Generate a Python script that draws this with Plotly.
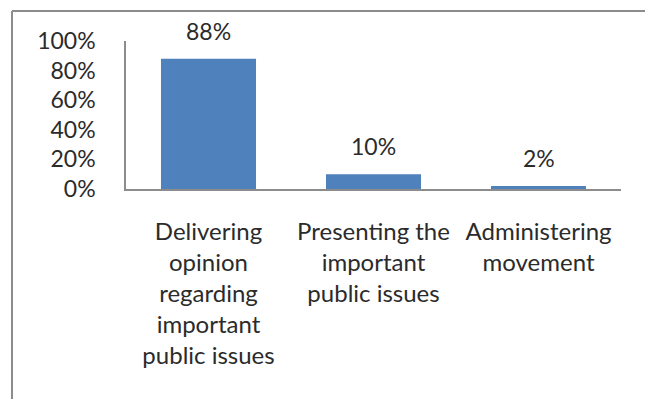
import plotly.graph_objects as go

# Survey results: share of respondents per purpose
categories = [
    "Delivering<br>opinion<br>regarding<br>important<br>public issues",
    "Presenting the<br>important<br>public issues",
    "Administering<br>movement",
]
shares = [0.88, 0.10, 0.02]
share_labels = ["88%", "10%", "2%"]
y_ticks = [0, 0.2, 0.4, 0.6, 0.8, 1.0]
y_tick_labels = ["0%", "20%", "40%", "60%", "80%", "100%"]

FONT = "Lato"
TEXT_COLOR = "#2b2b2b"
AXIS_COLOR = "#8c8c8c"

fig = go.Figure()
fig.add_trace(go.Bar(
    x=list(range(len(categories))),
    y=shares,
    marker=dict(color="#4F81BD", line=dict(width=0)),
    hoverinfo="skip",
))

# value labels above each bar
for i, (v, lab) in enumerate(zip(shares, share_labels)):
    fig.add_annotation(
        x=i, y=v, text=lab, showarrow=False,
        yanchor="bottom", yshift=12,
        font=dict(family=FONT, size=23, color=TEXT_COLOR),
    )

# chart frame: top and left edges, in pixels from the plot corner
fig.add_shape(type="line", xref="paper", yref="paper",
              xsizemode="pixel", ysizemode="pixel",
              xanchor=0, yanchor=1,
              x0=-114, x1=519, y0=30, y1=30,
              line=dict(color=AXIS_COLOR, width=2), layer="below")
fig.add_shape(type="line", xref="paper", yref="paper",
              xsizemode="pixel", ysizemode="pixel",
              xanchor=0, yanchor=1,
              x0=-114, x1=-114, y0=30, y1=-370,
              line=dict(color=AXIS_COLOR, width=2), layer="below")

fig.update_layout(
    width=645, height=399,
    margin=dict(l=126, r=24, t=41, b=210),
    paper_bgcolor="white", plot_bgcolor="white",
    bargap=0.424,
    showlegend=False,
    font=dict(family=FONT, color=TEXT_COLOR),
)
fig.update_xaxes(
    tickmode="array",
    tickvals=list(range(len(categories))),
    ticktext=categories,
    range=[-0.5, 2.5],
    showline=True, linecolor=AXIS_COLOR, linewidth=1.5,
    showgrid=False, zeroline=False, ticks="",
    tickfont=dict(family=FONT, size=24, color=TEXT_COLOR),
    ticklabelstandoff=20,
    tickangle=0,
)
fig.update_yaxes(
    tickmode="array",
    tickvals=y_ticks,
    ticktext=y_tick_labels,
    range=[0, 1],
    showline=True, linecolor=AXIS_COLOR, linewidth=1.5,
    showgrid=False, zeroline=False, ticks="",
    tickfont=dict(family=FONT, size=23, color=TEXT_COLOR),
    ticklabelstandoff=24,
)

fig.write_html("out.html")
